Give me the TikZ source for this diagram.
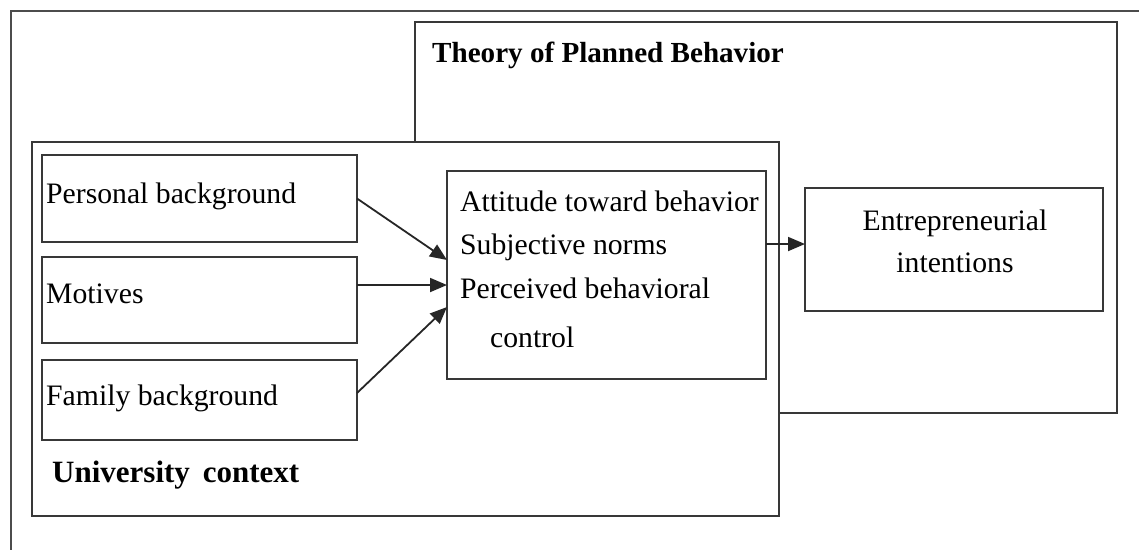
\documentclass[tikz,border=0pt]{standalone}
\usepackage{fontspec}
\setmainfont{Liberation Serif}
\usetikzlibrary{arrows.meta}
\begin{document}
\begin{tikzpicture}[x=1pt,y=-1pt,
  frameline/.style={draw=black!70, line width=1.8pt},
  boxnode/.style={draw=black!78, line width=1.8pt, fill=white, inner sep=0pt, outer sep=0pt},
  txt/.style={anchor=base west, inner sep=0pt, font=\fontsize{29.7}{34}\selectfont},
  ctxt/.style={anchor=base, inner sep=0pt, font=\fontsize{29.7}{34}\selectfont},
  btxt/.style={anchor=base west, inner sep=0pt, font=\fontsize{29.1}{34}\selectfont\bfseries},
  arr/.style={draw=black!85, line width=1.8pt, -{Triangle[length=17pt,width=14pt]}}]
\useasboundingbox (0,0) rectangle (1139,550);
% outer frame (top and left edges only)
\coordinate (fa) at (1139,11);
\coordinate (fb) at (11,11);
\coordinate (fc) at (11,550);
\draw[frameline] (fa) -- (fb) -- (fc);
% Theory of Planned Behavior box
\node[boxnode, minimum width=702pt, minimum height=391pt] (tpb) at (766,217.5) {};
\node[btxt] (tpbl) at (432,62) {Theory of Planned Behavior};
% University context box
\node[boxnode, minimum width=747pt, minimum height=374pt] (uni) at (405.5,329) {};
\node[btxt, font=\fontsize{31}{36}\selectfont\bfseries] (unil) at (52,482) {University\, context};
% left boxes
\node[boxnode, minimum width=315pt, minimum height=87pt] (pb) at (199.5,198.5) {};
\node[boxnode, minimum width=315pt, minimum height=86pt] (mo) at (199.5,300) {};
\node[boxnode, minimum width=315pt, minimum height=80pt] (fb2) at (199.5,400) {};
\node[txt] (pbl) at (46,203) {Personal background};
\node[txt] (mol) at (46,303) {Motives};
\node[txt] (fbl) at (46,405) {Family background};
% middle box
\node[boxnode, minimum width=319pt, minimum height=208pt] (mid) at (606.5,275) {};
\node[txt] (m1) at (460,211) {Attitude toward behavior};
\node[txt] (m2) at (460,254) {Subjective norms};
\node[txt] (m3) at (460,298) {Perceived behavioral};
\node[txt] (m4) at (490,347) {control};
% entrepreneurial intentions box
\node[boxnode, minimum width=298pt, minimum height=123pt] (ent) at (954,249.5) {};
\node[ctxt] (e1) at (955,230) {Entrepreneurial};
\node[ctxt] (e2) at (955,272) {intentions};
% arrows
\draw[arr] (pb.east) -- ([yshift=15pt]mid.west);
\draw[arr] ([yshift=15pt]mo.east) -- ([yshift=-10pt]mid.west);
\draw[arr] ([yshift=7pt]fb2.east) -- ([yshift=-32pt]mid.west);
\draw[arr] ([yshift=31pt]mid.east) -- ([yshift=5.5pt]ent.west);
\end{tikzpicture}
\end{document}
